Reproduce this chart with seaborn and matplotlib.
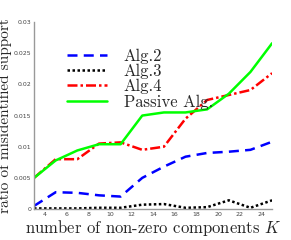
import numpy as np
import pandas as pd
import matplotlib
matplotlib.use("Agg")
import matplotlib.pyplot as plt
import seaborn as sns

# --- DATA ---
k_values = [3, 5, 7, 9, 11, 13, 15, 17, 19, 21, 23, 25]
alg2 = [0.0005, 0.0027, 0.0026, 0.0022, 0.0020, 0.0050, 0.0068, 0.0084, 0.0090, 0.0092, 0.0095, 0.0108]
alg3 = [0.0001, 0.0001, 0.0001, 0.0002, 0.0002, 0.0007, 0.0008, 0.0002, 0.0003, 0.0014, 0.0002, 0.0014]
alg4 = [0.0050, 0.0080, 0.0080, 0.0105, 0.0107, 0.0095, 0.0100, 0.0145, 0.0175, 0.0183, 0.0191, 0.0218]
passive = [0.0050, 0.0078, 0.0094, 0.0104, 0.0104, 0.0150, 0.0155, 0.0155, 0.0160, 0.0185, 0.0220, 0.0266]
series_names = ["Alg.2", "Alg.3", "Alg.4", "Passive Alg."]
x_ticks = [4, 6, 8, 10, 12, 14, 16, 18, 20, 22, 24]
y_ticks = [0, 0.005, 0.01, 0.015, 0.02, 0.025, 0.03]
y_tick_labels = ["0", "0.005", "0.01", "0.015", "0.02", "0.025", "0.03"]

df = pd.DataFrame({"K": k_values * 4,
                   "ratio": alg2 + alg3 + alg4 + passive,
                   "alg": sum([[n] * len(k_values) for n in series_names], [])})

sns.set_style("white")
plt.rcParams["mathtext.fontset"] = "cm"

fig = plt.figure(figsize=(2.91, 2.40), dpi=100)
ax = fig.add_axes([0.117, 0.129, 0.818, 0.779])

colors = {"Alg.2": "#0000ff", "Alg.3": "#000000", "Alg.4": "#ff0000", "Passive Alg.": "#00ff00"}
dashes = {"Alg.2": (4, 2.5), "Alg.3": (1, 1), "Alg.4": (4, 1.2, 1, 1.2), "Passive Alg.": ""}

sns.lineplot(data=df, x="K", y="ratio", hue="alg", style="alg",
             palette=colors, dashes=dashes, linewidth=1.8, ax=ax)

ax.set_xlim(3, 25)
ax.set_ylim(0, 0.03)
ax.set_xticks(x_ticks)
ax.set_xticklabels([str(t) for t in x_ticks], fontsize=4.5, color="#444444")
ax.set_yticks(y_ticks)
ax.set_yticklabels(y_tick_labels, fontsize=4.5, color="#444444")
ax.tick_params(direction="in", length=2.5, width=0.6, color="#888888", pad=2)

for s in ["top", "right"]:
    ax.spines[s].set_visible(False)
for s in ["left", "bottom"]:
    ax.spines[s].set_color("#999999")
    ax.spines[s].set_linewidth(1.0)

ax.set_xlabel("number of non-zero components $K$", family="cmr10", fontsize=12, labelpad=1)
ax.set_ylabel("ratio of misidentified support", family="cmr10", fontsize=11, labelpad=1)

leg = ax.legend(loc="upper left", bbox_to_anchor=(0.11, 0.895), frameon=False,
                prop={"family": "cmr10", "size": 12}, handlelength=2.4,
                handletextpad=1.0, labelspacing=0.0, borderaxespad=0)

fig.savefig("out.png", dpi=100)
